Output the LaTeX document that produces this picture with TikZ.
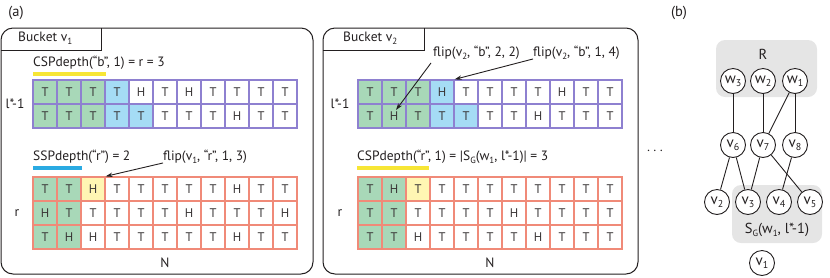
\documentclass[tikz,border=0pt]{standalone}
\usepackage{fontspec}
\setmainfont{PT Sans}
\usetikzlibrary{arrows.meta,calc}
\definecolor{cgreen}{HTML}{A8D8B8}
\definecolor{cblue}{HTML}{A5DCF5}
\definecolor{cyell}{HTML}{FFF6B3}
\definecolor{cpurp}{HTML}{8E80D0}
\definecolor{cred}{HTML}{F08A78}
\definecolor{uyell}{HTML}{F7E635}
\definecolor{ublue}{HTML}{2AAAE2}
\definecolor{cgrey}{HTML}{E5E5E5}
\definecolor{ink}{HTML}{231F20}
\newcommand\sbs[1]{\raisebox{-0.45ex}{\fontsize{9}{10}\selectfont #1}}
\newcommand\gsbs[1]{\raisebox{-0.4ex}{\fontsize{10}{11}\selectfont #1}}
\begin{document}
\begin{tikzpicture}[x=1pt,y=-1pt,
  cell/.style={minimum size=24pt, inner sep=0pt, line width=1.3pt, font=\fontsize{12.5}{14}\selectfont, text=ink!90},
  bcell/.style={cell, draw=cpurp},
  rcell/.style={cell, draw=cred},
  lbl/.style={inner sep=0pt, anchor=west, text=ink, font=\fontsize{13.5}{15}\selectfont},
  clbl/.style={inner sep=0pt, text=ink, font=\fontsize{13.5}{15}\selectfont},
  gnode/.style={circle, draw=ink, line width=0.9pt, minimum size=25pt, inner sep=0pt, fill=white, text=ink, font=\fontsize{15}{16}\selectfont},
  bucket/.style={draw=ink, line width=1pt, rounded corners=12pt},
  uline/.style={line width=3.2pt},
  ptr/.style={-{Stealth[length=7pt,width=4.5pt]}, line width=0.9pt, draw=ink},
  gedge/.style={line width=0.9pt, draw=ink}]
\useasboundingbox (0,0) rectangle (830,277);

% panel labels
\node[clbl, font=\fontsize{14.5}{16}\selectfont] (pa) at (16,13) {(a)};
\node[clbl, font=\fontsize{14.5}{16}\selectfont] (pb) at (679,13) {(b)};
\node[clbl] (dots) at (655,151) {$\cdots$};

% bucket frames
\draw[bucket] (1,28) rectangle (313,274);
\draw[ink, line width=1pt] (1,50) -| (101,28);
\node[lbl] (bk1) at (18,38) {Bucket v\sbs{1}};
\draw[bucket] (323,28) rectangle (638,274);
\draw[ink, line width=1pt] (323,50) -| (424,28);
\node[lbl] (bk2) at (343,38) {Bucket v\sbs{2}};

% grid A: bucket v1, blue
\foreach \row [count=\r] in {
 {T/cgreen,T/cgreen,T/cgreen,T/cblue,H/white,T/white,H/white,T/white,T/white,T/white,T/white},
 {T/cgreen,T/cgreen,T/cgreen,T/cblue,T/cblue,T/white,T/white,T/white,H/white,T/white,T/white}}{
  \foreach \t/\f [count=\c] in \row {
    \node[bcell, fill=\f] (A-\r-\c) at ({33+(\c-0.5)*24},{80+(\r-0.5)*24}) {\t};
  }
}
% grid B: bucket v1, red
\foreach \row [count=\r] in {
 {T/cgreen,T/cgreen,H/cyell,T/white,T/white,T/white,T/white,T/white,H/white,T/white,T/white},
 {H/cgreen,T/cgreen,T/white,T/white,T/white,T/white,H/white,T/white,T/white,T/white,H/white},
 {T/cgreen,H/cgreen,H/white,T/white,T/white,T/white,T/white,T/white,H/white,T/white,T/white}}{
  \foreach \t/\f [count=\c] in \row {
    \node[rcell, fill=\f] (B-\r-\c) at ({33+(\c-0.5)*24},{177+(\r-0.5)*24}) {\t};
  }
}
% grid C: bucket v2, blue
\foreach \row [count=\r] in {
 {T/cgreen,T/cgreen,T/cgreen,H/cblue,T/white,T/white,T/white,T/white,H/white,T/white,T/white},
 {T/cgreen,H/cgreen,T/cgreen,T/cblue,T/cblue,T/white,T/white,H/white,T/white,T/white,T/white}}{
  \foreach \t/\f [count=\c] in \row {
    \node[bcell, fill=\f] (C-\r-\c) at ({358+(\c-0.5)*24},{80+(\r-0.5)*24}) {\t};
  }
}
% grid D: bucket v2, red
\foreach \row [count=\r] in {
 {T/cgreen,H/cgreen,T/cyell,T/white,T/white,T/white,T/white,T/white,T/white,T/white,T/white},
 {T/cgreen,T/cgreen,T/white,T/white,T/white,T/white,H/white,T/white,T/white,T/white,T/white},
 {T/cgreen,T/cgreen,H/white,T/white,T/white,T/white,T/white,H/white,T/white,T/white,T/white}}{
  \foreach \t/\f [count=\c] in \row {
    \node[rcell, fill=\f] (D-\r-\c) at ({358+(\c-0.5)*24},{177+(\r-0.5)*24}) {\t};
  }
}

% row / column labels
\node[clbl] (la1) at (15,104) {l*-1};
\node[clbl] (lb1) at (17,213) {r};
\node[clbl] (nb1) at (165,263) {N};
\node[clbl] (la2) at (340,104) {l*-1};
\node[clbl] (lb2) at (340,213) {r};
\node[clbl] (nb2) at (490,263) {N};

% annotations bucket v1
\node[lbl] (t1) at (33,63) {CSPdepth(“b”, 1) = r = 3};
\draw[uline, uyell] ($(t1.west)+(0,11)$) -- ++(73,0);
\node[lbl] (t2) at (33,157) {SSPdepth(“r”) = 2};
\draw[uline, ublue] ($(t2.west)+(0,11)$) -- ++(49,0);
\node[lbl] (f1) at (163,157) {flip(v\sbs{1}, “r”, 1, 3)};
\draw[ptr] ($(f1.south west)+(0,-1)$) -- (B-1-3.north east);

% annotations bucket v2
\node[lbl] (f2) at (433,53) {flip(v\sbs{2}, “b”, 2, 2)};
\node[lbl] (f3) at (533,53) {flip(v\sbs{2}, “b”, 1, 4)};
\draw[ptr] ($(f2.south west)+(-2,3)$) -- ($(C-2-2.center)+(2,-6)$);
\draw[ptr] ($(f3.south west)+(0,-1)$) -- (C-1-4.north east);
\node[lbl] (t3) at (357,157) {CSPdepth(“r”, 1) = |S\sbs{G}(w\sbs{1}, l*-1)| = 3};
\draw[uline, uyell] ($(t3.west)+(0,11)$) -- ++(72,0);

% graph (b)
\fill[cgrey, rounded corners=9pt] (716,40) rectangle (817,97);
\fill[cgrey, rounded corners=9pt] (732,185) rectangle (822,243);
\node[clbl, font=\fontsize{14.5}{16}\selectfont] (R) at (763,54) {R};
\node[clbl, font=\fontsize{14.5}{16}\selectfont] (SG) at (777,230) {S\sbs{G}(w\sbs{1}, l*-1)};
\node[gnode] (w3) at (733,81) {w\gsbs{3}};
\node[gnode] (w2) at (763,81) {w\gsbs{2}};
\node[gnode] (w1) at (795,81) {w\gsbs{1}};
\node[gnode] (v6) at (733,145) {v\gsbs{6}};
\node[gnode] (v7) at (763,145) {v\gsbs{7}};
\node[gnode] (v8) at (795,145) {v\gsbs{8}};
\node[gnode] (v2) at (717,202) {v\gsbs{2}};
\node[gnode] (v3) at (748,202) {v\gsbs{3}};
\node[gnode] (v4) at (779,202) {v\gsbs{4}};
\node[gnode] (v5) at (810,202) {v\gsbs{5}};
\node[gnode] (v1) at (762,263) {v\gsbs{1}};
\draw[gedge] (w3) -- (v6);
\draw[gedge] (w2) -- (v7);
\draw[gedge] (w1) -- (v7);
\draw[gedge] (w1) -- (v8);
\draw[gedge] (v6) -- (v2);
\draw[gedge] (v6) -- (v3);
\draw[gedge] (v7) -- (v3);
\draw[gedge] (v7) -- (v5);
\draw[gedge] (v8) -- (v4);
\end{tikzpicture}
\end{document}
